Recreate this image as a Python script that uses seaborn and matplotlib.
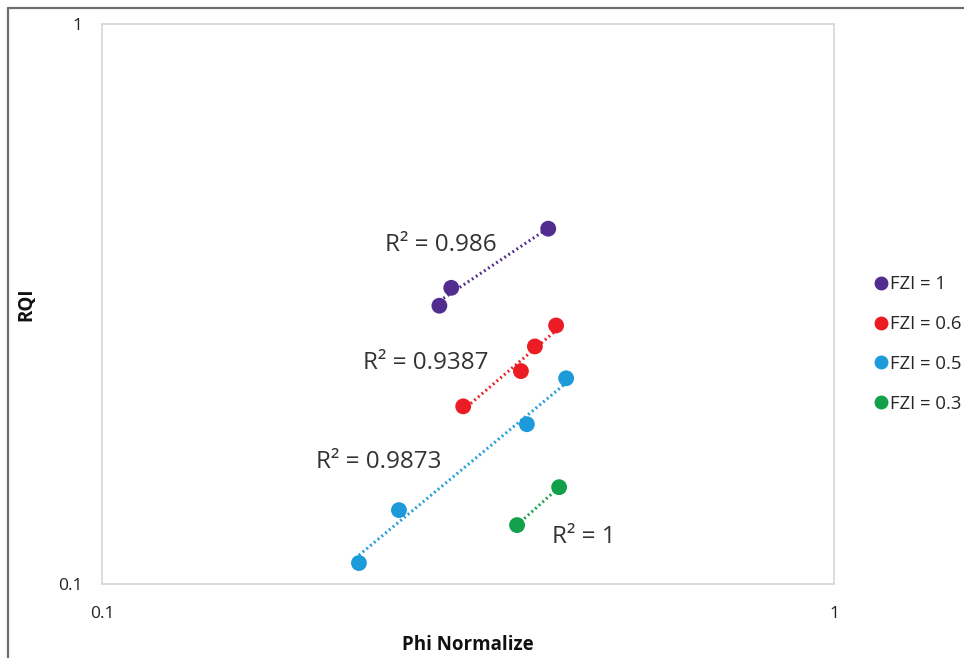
import numpy as np
import pandas as pd
import matplotlib
matplotlib.use("Agg")
import matplotlib.pyplot as plt
from matplotlib.lines import Line2D
from matplotlib.ticker import FixedLocator, NullLocator, FixedFormatter
import seaborn as sns

# ---- data ----
series_names = ["FZI = 1", "FZI = 0.6", "FZI = 0.5", "FZI = 0.3"]
phi_fzi1 = [0.289, 0.300, 0.407]
rqi_fzi1 = [0.314, 0.338, 0.431]
phi_fzi06 = [0.3115, 0.3735, 0.3903, 0.4172]
rqi_fzi06 = [0.2076, 0.240, 0.2656, 0.2895]
phi_fzi05 = [0.2244, 0.2545, 0.3806, 0.4306]
rqi_fzi05 = [0.109, 0.1355, 0.1929, 0.233]
phi_fzi03 = [0.3690, 0.4212]
rqi_fzi03 = [0.1274, 0.1489]
r2_labels = ["R\u00b2 = 0.986", "R\u00b2 = 0.9387", "R\u00b2 = 0.9873", "R\u00b2 = 1"]
x_ticks = [0.1, 1]
x_tick_labels = ["0.1", "1"]
y_ticks = [0.1, 1]
y_tick_labels = ["0.1", "1"]
colors = ["#512D8F", "#EC1C24", "#1C9ADA", "#12A04A"]

xs = [phi_fzi1, phi_fzi06, phi_fzi05, phi_fzi03]
ys = [rqi_fzi1, rqi_fzi06, rqi_fzi05, rqi_fzi03]
df = pd.concat([pd.DataFrame({"Phi": x, "RQI": y, "series": n})
                for x, y, n in zip(xs, ys, series_names)], ignore_index=True)

sns.set_theme(style="white")
plt.rcParams["font.family"] = ["Open Sans", "DejaVu Sans"]

W, H = 964, 658
fig = plt.figure(figsize=(W / 100, H / 100), dpi=100)
ax = fig.add_axes([102 / W, 1 - 584 / H, 732 / W, 560 / H])

# power trendlines (linear fit in log-log space)
for x, y, c in zip(xs, ys, colors):
    lx, ly = np.log10(x), np.log10(y)
    b, a = np.polyfit(lx, ly, 1)
    xx = np.array([min(x), max(x)])
    ax.plot(xx, 10 ** (a + b * np.log10(xx)), color=c, lw=2.2,
            linestyle=(0, (0.6, 1.0)), zorder=2)

sns.scatterplot(data=df, x="Phi", y="RQI", hue="series", hue_order=series_names,
                palette=colors, s=130, edgecolor="none", ax=ax, zorder=3)

ax.set_xscale("log")
ax.set_yscale("log")
ax.set_xlim(0.1, 1)
ax.set_ylim(0.1, 1)
ax.xaxis.set_major_locator(FixedLocator(x_ticks))
ax.xaxis.set_major_formatter(FixedFormatter(x_tick_labels))
ax.yaxis.set_major_locator(FixedLocator(y_ticks))
ax.yaxis.set_major_formatter(FixedFormatter(y_tick_labels))
ax.xaxis.set_minor_locator(NullLocator())
ax.yaxis.set_minor_locator(NullLocator())
ax.tick_params(axis="both", length=0, labelsize=12.5, colors="#222222")
ax.tick_params(axis="x", pad=16)
ax.tick_params(axis="y", pad=14)
for sp in ax.spines.values():
    sp.set_color("#D9D9D9")
    sp.set_linewidth(1.3)
ax.grid(False)

ax.set_xlabel("Phi Normalize", fontsize=13.5, fontweight="bold", color="#111111")
ax.set_ylabel("RQI", fontsize=13.5, fontweight="bold", color="#111111")
ax.xaxis.set_label_coords((468 - 102) / 732, (584 - 645) / 560)
ax.yaxis.set_label_coords((26 - 102) / 732, 0.5)
ax.xaxis.label.set_va("center")
ax.yaxis.label.set_va("center")

# R² annotations
pos = [(385, 245), (363, 363), (316, 462), (552, 537)]
for (px, py), t in zip(pos, r2_labels):
    ax.text((px - 102) / 732, (584 - py) / 560, t, transform=ax.transAxes,
            fontsize=17.5, color="#333333", ha="left", va="center")

# legend
handles = [Line2D([], [], marker="o", linestyle="none", color=c, markersize=9) for c in colors]
leg = ax.legend(handles, series_names, loc="center left",
                bbox_to_anchor=(872 / W, 1 - 344 / H), bbox_transform=fig.transFigure,
                frameon=False, fontsize=13.3, handletextpad=0.0, labelspacing=1.18,
                handlelength=1.0, borderaxespad=0, borderpad=0)

# outer frame (top and left edges)
fig.add_artist(Line2D([8 / W, 1.0], [1 - 8 / H, 1 - 8 / H], transform=fig.transFigure,
                      color="#6E6E6E", lw=1.6))
fig.add_artist(Line2D([8 / W, 8 / W], [1 - 8 / H, 0.0], transform=fig.transFigure,
                      color="#6E6E6E", lw=1.6))

fig.savefig("out.png", dpi=100, facecolor="white")
